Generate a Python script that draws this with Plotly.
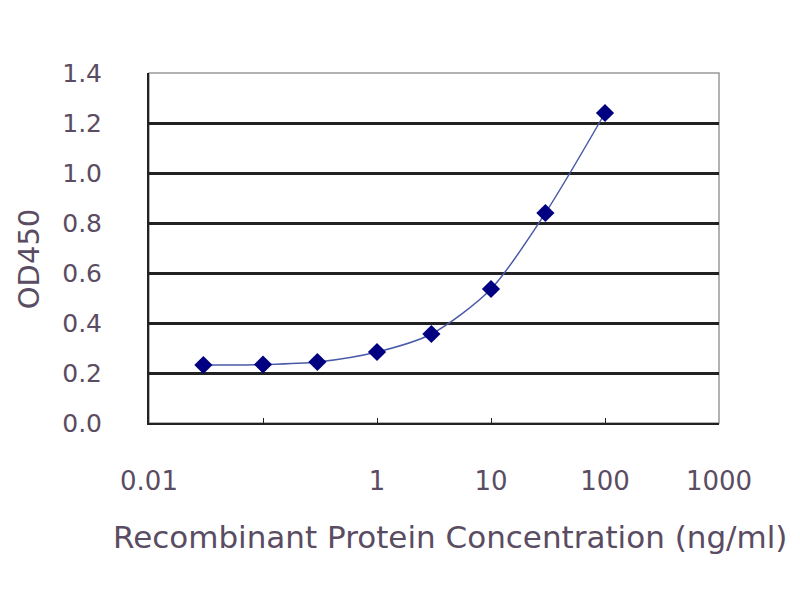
import plotly.graph_objects as go

# ELISA standard curve: concentration (ng/ml) vs OD450
concentration = [0.03, 0.1, 0.3, 1, 3, 10, 30, 100]
od450 = [0.232, 0.234, 0.244, 0.284, 0.356, 0.536, 0.84, 1.24]

x_tickvals = [0.01, 0.1, 1, 10, 100, 1000]
x_ticktext = ['0.01', '', '1', '10', '100', '1000']
y_tickvals = [0.0, 0.2, 0.4, 0.6, 0.8, 1.0, 1.2, 1.4]
y_ticktext = ['0.0', '0.2', '0.4', '0.6', '0.8', '1.0', '1.2', '1.4']

text_color = '#5a4c62'

fig = go.Figure()
fig.add_trace(go.Scatter(
    x=concentration, y=od450,
    mode='lines+markers',
    line=dict(color='#4a5aa8', width=1.5, shape='spline', smoothing=0.8),
    marker=dict(symbol='diamond', size=14, color='#000080'),
    showlegend=False,
))

fig.update_layout(
    width=800, height=600,
    paper_bgcolor='white', plot_bgcolor='white',
    margin=dict(l=141, r=89, t=65, b=185),
    font=dict(family='DejaVu Sans', color=text_color),
)
fig.update_xaxes(
    type='log', range=[-2, 3],
    tickvals=x_tickvals, ticktext=x_ticktext,
    ticks='inside', ticklen=5, tickcolor='#222',
    tickfont=dict(size=26),
    ticklabelstandoff=34,
    showgrid=False, zeroline=False,
    showline=True, linecolor='#222', linewidth=2, mirror=False,
)
fig.update_yaxes(
    range=[0, 1.4],
    tickvals=y_tickvals, ticktext=y_ticktext,
    ticks='', tickfont=dict(size=25),
    ticklabelstandoff=40,
    showgrid=True, gridcolor='#222', gridwidth=2.5,
    zeroline=False,
    showline=True, linecolor='#222', linewidth=2,
)
# axis titles placed as in the original
fig.add_annotation(text='Recombinant Protein Concentration (ng/ml)', xref='paper', yref='paper',
                   x=0.528, y=-0.326, xanchor='center', yanchor='middle',
                   showarrow=False, font=dict(size=31))
fig.add_annotation(text='OD450', xref='paper', yref='paper',
                   x=-0.211, y=0.47, xanchor='center', yanchor='middle', textangle=-90,
                   showarrow=False, font=dict(size=29))
# light grey frame on top and right
fig.add_shape(type='rect', xref='paper', yref='paper', x0=0, y0=0, x1=1, y1=1,
              line=dict(color='#999', width=1.5), layer='below')

fig.write_html("out.html")
